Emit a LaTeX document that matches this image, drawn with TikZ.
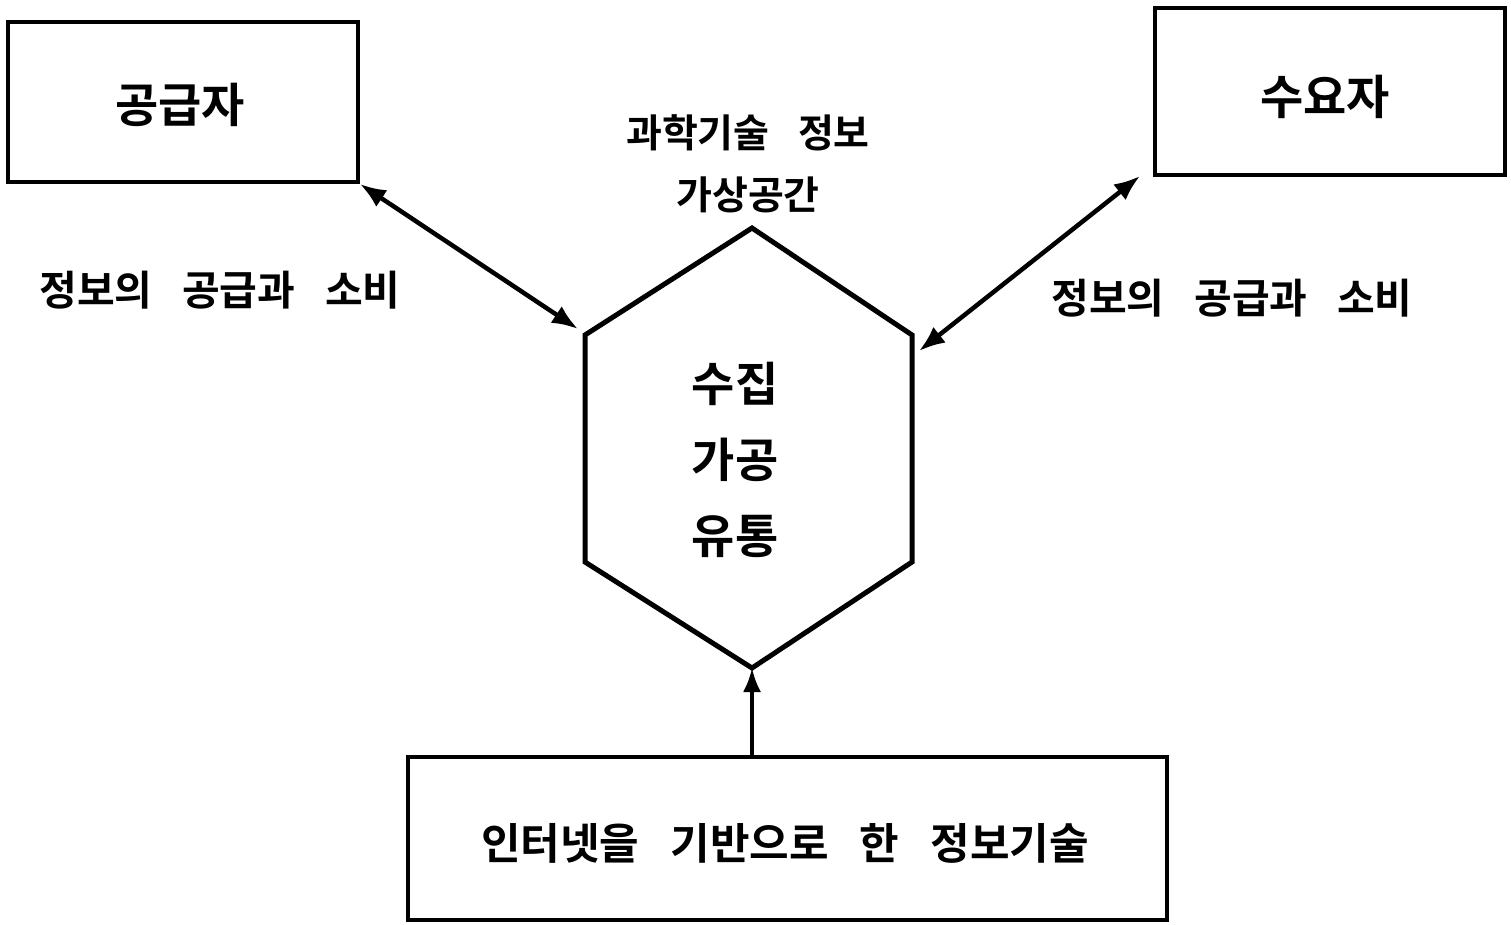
\documentclass[tikz,border=0pt]{standalone}
\usepackage{fontspec}
\newfontfamily\kr[WordSpace=3.2]{Noto Sans CJK KR Bold}
\usetikzlibrary{arrows.meta}
\begin{document}
\begin{tikzpicture}[x=1pt,y=-1pt,
  box/.style={draw,line width=4.5pt,inner sep=0pt},
  lbl/.style={font=\kr\fontsize{41}{62}\selectfont,align=center,inner sep=0pt},
  big/.style={font=\kr\fontsize{47}{76}\selectfont,align=center,inner sep=0pt},
  conn/.style={line width=4.5pt,{Latex[length=26pt,width=20pt]}-{Latex[length=26pt,width=20pt]}},
  conn1/.style={line width=3.5pt,-{Latex[length=24pt,width=18pt]}}]
\useasboundingbox (0,0) rectangle (1511,924);
\fill[white] (0,0) rectangle (1511,924);
% boxes
\draw[box] (8,22) rectangle (358,182);
\node[big] (sup) at (180,105) {공급자};
\coordinate (supSE) at (360,184);
\draw[box] (1155,8) rectangle (1505,175);
\node[big] (dem) at (1325,97) {수요자};
\coordinate (demSW) at (1140,176);
\draw[box] (408,757) rectangle (1167,920);
\node[big,font=\kr\fontsize{43}{60}\selectfont] (it) at (785,843) {인터넷을 기반으로 한 정보기술};
\coordinate (itN) at (752,757);
% hexagon
\coordinate (hT) at (752,228);
\coordinate (hUL) at (585,335);
\coordinate (hLL) at (585,562);
\coordinate (hB) at (752,668);
\coordinate (hLR) at (912,562);
\coordinate (hUR) at (912,335);
\draw[line width=5pt,line join=miter] (hT) -- (hUL) -- (hLL) -- (hB) -- (hLR) -- (hUR) -- cycle;
\node[big] (core) at (735,460) {수집\\가공\\유통};
% labels
\node[lbl,font=\kr\fontsize{39}{62}\selectfont] (space) at (748,164) {과학기술 정보\\가상공간};
\node[lbl] (lft) at (220,290) {정보의 공급과 소비};
\node[lbl] (rgt) at (1232,298) {정보의 공급과 소비};
% connectors
\coordinate (hULa) at (578,329);
\coordinate (hURa) at (919,351);
\draw[conn] (supSE) -- (hULa);
\draw[conn] (demSW) -- (hURa);
\draw[conn1] (itN) -- (hB);
\end{tikzpicture}
\end{document}
